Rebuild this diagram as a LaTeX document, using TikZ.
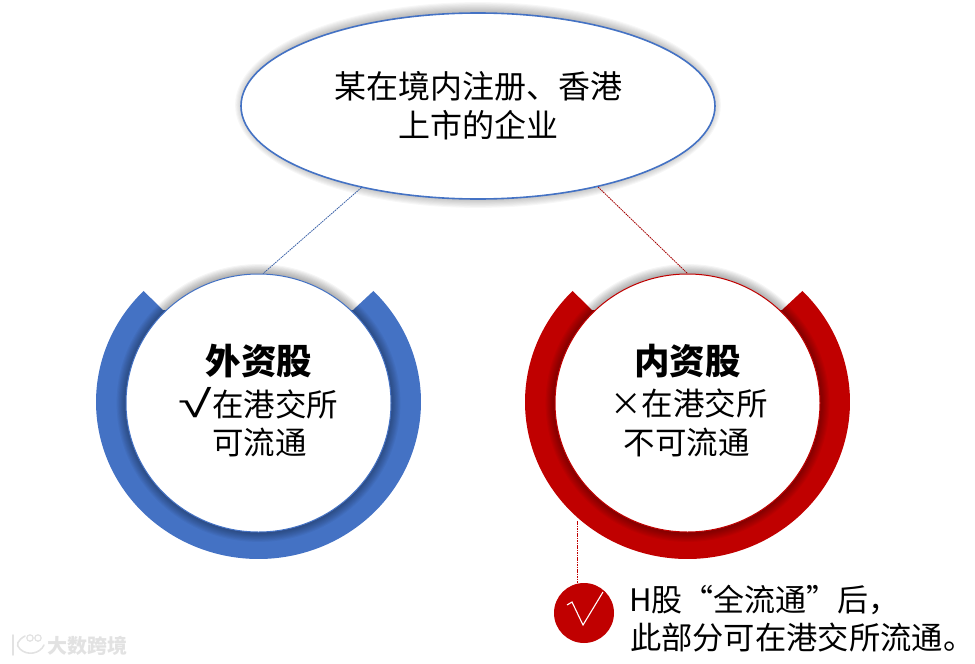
\documentclass[tikz,border=0pt]{standalone}
\usepackage{fontspec}
\setmainfont{Noto Sans CJK SC}
\newfontfamily\symfont{Liberation Sans}
\usetikzlibrary{shapes.geometric}
\definecolor{cblue}{HTML}{4472C4}
\definecolor{cred}{HTML}{C00000}
\definecolor{cmark}{HTML}{E2E2E2}
\newcommand{\softshadow}[5]{% cx cy rx ry opacity
  \foreach \k in {9,8,...,1}{
    \fill[black,opacity=#5] (#1,#2) ellipse [x radius={#3+\k*1.1},y radius={#4+\k*1.1}];
  }}
\newcommand{\ringshape}[2]{% cx colour
  \fill[#2] plot[domain=225:-45,samples=120,smooth] ({#1+162.5*cos(\x)},{402+157*sin(\x)})
     -- ({#1+94.5},310) -- ({#1-95.5},310) -- cycle;}
\tikzset{
  txt/.style={inner sep=0pt,outer sep=0pt,text=black,align=center},
  big/.style={txt,font=\fontsize{31.5}{39}\selectfont},
  head/.style={txt,font=\fontsize{35.5}{40}\selectfont\bfseries},
  note/.style={txt,anchor=west,align=left},
  disc/.style={ellipse,draw=#1,line width=1pt,fill=white,inner sep=0pt,minimum width=265pt,minimum height=258pt},
  link/.style={#1,line width=0.8pt,dash pattern=on 1.6pt off 0.8pt},
  wm/.style={draw=cmark,line width=1.6pt,line cap=round}
}
\begin{document}
\begin{tikzpicture}[x=1pt,y=-1pt]
\useasboundingbox (0,0) rectangle (975,664);
% top ellipse
\softshadow{478}{105}{233}{93}{0.03}
\node[ellipse,draw=cblue,line width=1.6pt,fill=white,inner sep=0pt,minimum width=474pt,minimum height=186pt,
      font=\fontsize{32}{39}\selectfont,align=center] (top) at (478,106) {某在境内注册、香港\\上市的企业};
% left ring
\ringshape{258.5}{cblue}
\softshadow{258.5}{403}{132}{129}{0.04}
\node[disc=cblue] (left) at (258.5,403) {};
% right ring
\ringshape{687.5}{cred}
\softshadow{687.5}{403}{132}{129}{0.04}
\node[disc=cred] (right) at (687.5,403) {};
% connectors
\draw[link=cblue!85!black] (top.215) -- (left.88.5);
\draw[link=cred!85!black] (top.-34) -- (right.90.5);
% circle texts
\node[head] (lh) at (259,361) {外资股};
\node[big] (l1) at (258.5,403) {\raisebox{-1pt}{\symfont\scalebox{1.6}[1]{\fontsize{38}{38}\selectfont √}}在港交所};
\node[big] (l2) at (259.5,442) {可流通};
\node[head] (rh) at (687.5,361) {内资股};
\node[big] (r1) at (689,403) {×在港交所};
\node[big] (r2) at (686.5,442) {不可流通};
% note
\coordinate (tick) at (577,521);
\node[circle,fill=cred,inner sep=0pt,minimum size=60pt] (dot) at (584,613) {};
\draw[link=cred] (tick) -- (tick |- dot.north);
\draw[white,line width=1.1pt,line join=miter] (567,605) -- (572,602) -- (583,625) -- (603,592);
\node[note,font=\fontsize{31}{38}\selectfont] (n1) at (629,600) {H股“全流通”后，};
\node[note,font=\fontsize{31.3}{38}\selectfont] (n2) at (630,638) {此部分可在港交所流通。};
% watermark
\draw[wm] (13,635) -- (13,655);
\draw[wm] (25,636) .. controls (18,640) and (15,645) .. (20,649) .. controls (27,656) and (40,654) .. (44,645);
\draw[wm,line width=1.2pt] (30,638) circle [radius=3.2];
\draw[wm,line width=1.2pt] (38,638) circle [radius=3.2];
\node[txt,text=cmark,font=\fontsize{20}{22}\selectfont\bfseries] (mark) at (87.5,646) {大数跨境};
\end{tikzpicture}
\end{document}
